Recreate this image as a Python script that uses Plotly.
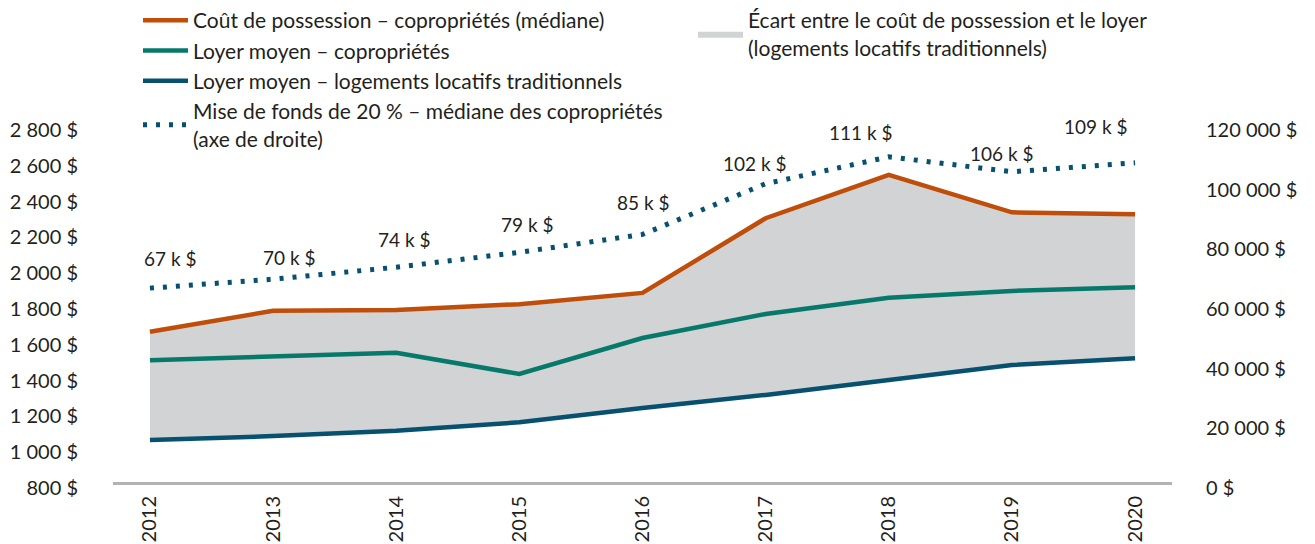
import plotly.graph_objects as go

years = ["2012", "2013", "2014", "2015", "2016", "2017", "2018", "2019", "2020"]
cout_possession = [1673, 1790, 1794, 1827, 1890, 2307, 2549, 2340, 2329]
loyer_copro = [1513, 1534, 1556, 1437, 1638, 1772, 1863, 1901, 1921]
loyer_traditionnel = [1068, 1090, 1120, 1167, 1247, 1320, 1403, 1487, 1525]
mise_de_fonds = [67000, 70000, 74000, 79000, 85000, 102000, 111000, 106000, 109000]
mise_labels = ["67 k $", "70 k $", "74 k $", "79 k $", "85 k $", "102 k $", "111 k $", "106 k $", "109 k $"]

left_tickvals = [800, 1000, 1200, 1400, 1600, 1800, 2000, 2200, 2400, 2600, 2800]
left_ticktext = ["800 $", "1 000 $", "1 200 $", "1 400 $", "1 600 $", "1 800 $", "2 000 $",
                 "2 200 $", "2 400 $", "2 600 $", "2 800 $"]
right_tickvals = [0, 20000, 40000, 60000, 80000, 100000, 120000]
right_ticktext = ["0 $", "20 000 $", "40 000 $", "60 000 $", "80 000 $", "100 000 $", "120 000 $"]

# label offsets (styling only)
label_dx = [20, 16, 8, 8, 0, -11, -28, -10, -40]
label_dy = [30, 22, 28, 28, 32, 20, 24, 18, 36]

ORANGE = "#C04E0B"
GREEN = "#07796A"
BLUE = "#07506F"
GRAY = "#D1D3D4"
TXT = "#231F20"
FONT = "Lato"

W, H = 1307, 536  # page adds an 8px body margin
ML, MR, MT, MB = 105, 143, 122, 56
PW, PH = W - ML - MR, H - MT - MB

fig = go.Figure()

# gap fill
fig.add_trace(go.Scatter(x=years, y=loyer_traditionnel, mode="lines", line=dict(width=0),
                         showlegend=False, hoverinfo="skip"))
fig.add_trace(go.Scatter(x=years, y=cout_possession, mode="lines", line=dict(width=0),
                         fill="tonexty", fillcolor=GRAY,
                         name="Écart entre le coût de possession et le loyer<br>(logements locatifs traditionnels)",
                         legend="legend2", legendgroup="g0"))

fig.add_trace(go.Scatter(x=years, y=cout_possession, mode="lines", line=dict(color=ORANGE, width=4.5),
                         name="Coût de possession – copropriétés (médiane)", legendgroup="g1"))
fig.add_trace(go.Scatter(x=years, y=loyer_copro, mode="lines", line=dict(color=GREEN, width=4.5),
                         name="Loyer moyen – copropriétés", legendgroup="g2"))
fig.add_trace(go.Scatter(x=years, y=loyer_traditionnel, mode="lines", line=dict(color=BLUE, width=4.5),
                         name="Loyer moyen – logements locatifs traditionnels", legendgroup="g3"))
fig.add_trace(go.Scatter(x=years, y=mise_de_fonds, mode="lines", yaxis="y2",
                         line=dict(color=BLUE, width=5, dash="4px,9px"),
                         name="Mise de fonds de 20 % – médiane des copropriétés<br>(axe de droite)",
                         legendgroup="g4"))

for i, (v, t) in enumerate(zip(mise_de_fonds, mise_labels)):
    fig.add_annotation(x=i, y=v, xref="x", yref="y2", text=t, showarrow=False,
                       xshift=label_dx[i], yshift=label_dy[i],
                       font=dict(family=FONT, size=19, color=TXT))

LEG_TOP = -8  # px from figure top
leg_y = (H - MB - LEG_TOP) / PH

fig.update_layout(
    width=W, height=H,
    margin=dict(l=ML, r=MR, t=MT, b=MB, autoexpand=False),
    paper_bgcolor="white", plot_bgcolor="white",
    font=dict(family=FONT, size=20, color=TXT),
    xaxis=dict(type="category", range=[-0.3, 8.3], showgrid=False, zeroline=False,
               anchor="free", position=5 / PH,
               showline=True, linecolor="#B3B3B3", linewidth=3, tickangle=-90,
               ticks="outside", ticklen=3, tickcolor="rgba(0,0,0,0)",
               tickfont=dict(family=FONT, size=20, color=TXT)),
    yaxis=dict(range=[800, 2800], tickvals=left_tickvals, ticktext=left_ticktext,
               showgrid=False, zeroline=False, showline=False,
               ticks="outside", ticklen=30, tickcolor="rgba(0,0,0,0)",
               tickfont=dict(family=FONT, size=20, color=TXT)),
    yaxis2=dict(range=[0, 120000], overlaying="y", side="right",
                tickvals=right_tickvals, ticktext=right_ticktext,
                showgrid=False, zeroline=False, showline=False,
                ticks="outside", ticklen=29, tickcolor="rgba(0,0,0,0)",
                tickfont=dict(family=FONT, size=20, color=TXT)),
    legend=dict(x=(130 - ML) / PW, y=leg_y,
                xanchor="left", yanchor="top", orientation="v", itemwidth=45,
                traceorder="normal", tracegroupgap=0, bgcolor="rgba(0,0,0,0)",
                font=dict(family=FONT, size=21, color=TXT)),
    legend2=dict(x=(685 - ML) / PW, y=leg_y,
                 xanchor="left", yanchor="top", itemwidth=45,
                 bgcolor="rgba(0,0,0,0)",
                 font=dict(family=FONT, size=21, color=TXT)),
    showlegend=True,
)

fig.write_html("out.html")
